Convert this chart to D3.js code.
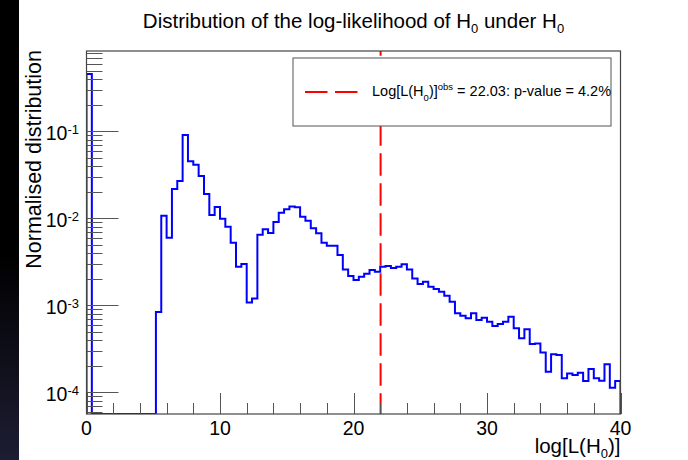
<!DOCTYPE html>
<html>
<head>
<meta charset="utf-8">
<script src="https://cdn.jsdelivr.net/npm/d3@7"></script>
<style>
  html, body { margin: 0; padding: 0; background: #000; }
  svg { display: block; }
  text { font-family: "Liberation Sans", Arial, Helvetica, sans-serif; fill: #000; }
</style>
</head>
<body>
<svg id="chart" width="688" height="460"></svg>
<script>
// Histogram of log L(H0) under H0: 100 bins of width 0.4 over [0, 40]
const binWidth = 0.4;
const xRange = [0, 40];
const binValues = [
  0.456, 0, 0, 0, 0, 0, 0, 0, 0, 0,
  0, 0, 0, 0.00084, 0.0107, 0.00598, 0.0217, 0.0269, 0.0906, 0.0452,
  0.0413, 0.0306, 0.0190, 0.0109, 0.0135, 0.00989, 0.0080, 0.00525, 0.00278, 0.00299,
  0.00108, 0.00120, 0.00648, 0.00748, 0.00678, 0.00906, 0.0116, 0.0127, 0.0137, 0.0134,
  0.0104, 0.00938, 0.00767, 0.00672, 0.00525, 0.00485, 0.00485, 0.00379, 0.00259, 0.00217,
  0.00195, 0.00213, 0.00231, 0.00255, 0.00243, 0.00278, 0.00283, 0.00268, 0.00278, 0.00296,
  0.00259, 0.00204, 0.00176, 0.00187, 0.00164, 0.00154, 0.00143, 0.00129, 0.00110, 0.000809,
  0.000759, 0.000709, 0.000809, 0.000678, 0.000720, 0.000647, 0.000578, 0.000610, 0.000647, 0.000740,
  0.000544, 0.000418, 0.000530, 0.000359, 0.000365, 0.000288, 0.000173, 0.000275, 0.000268, 0.000145,
  0.000165, 0.000158, 0.000168, 0.000135, 0.000185, 0.000145, 0.000136, 0.000210, 0.000113, 0.000135
];
const yRange = [5.64e-5, 0.838];

// Observed value and its p-value
const obsValue = 22.03;
const obsLabel = "22.03";
const pValueLabel = "4.2%";

// Axis ticks
const xMajorTicks = [0, 10, 20, 30, 40];
const xMinorStep = 2;
const yDecades = [1e-4, 1e-3, 1e-2, 1e-1];
const yExponents = ["-4", "-3", "-2", "-1"];

const svg = d3.select("#chart");
const W = 688, H = 460;
const frame = { left: 86.5, right: 620.5, top: 51, bottom: 414 };

// Page background: dark strip on the left, white canvas
const defs = svg.append("defs");
const grad = defs.append("linearGradient").attr("id", "edgeGrad")
  .attr("x1", 0).attr("y1", 0).attr("x2", 0).attr("y2", 1);
grad.append("stop").attr("offset", "0%").attr("stop-color", "#000");
grad.append("stop").attr("offset", "55%").attr("stop-color", "#000");
grad.append("stop").attr("offset", "100%").attr("stop-color", "#1d1d33");
svg.append("rect").attr("x", 0).attr("y", 0).attr("width", 19).attr("height", H).attr("fill", "url(#edgeGrad)");
svg.append("rect").attr("x", 19).attr("y", 0).attr("width", W - 19).attr("height", H).attr("fill", "#fff");

const x = d3.scaleLinear().domain(xRange).range([frame.left, frame.right]);
const y = d3.scaleLog().domain(yRange).range([frame.bottom, frame.top]);

defs.append("clipPath").attr("id", "plotClip")
  .append("rect")
  .attr("x", frame.left).attr("y", frame.top - 1)
  .attr("width", frame.right - frame.left).attr("height", frame.bottom - frame.top + 1);

// Step outline of the histogram; empty bins sit on the lower edge
const yMin = yRange[0];
const pts = [[xRange[0], yMin]];
binValues.forEach((v, i) => {
  const vv = Math.max(v, yMin);
  pts.push([xRange[0] + i * binWidth, vv]);
  pts.push([xRange[0] + (i + 1) * binWidth, vv]);
});
pts.push([xRange[1], yMin]);

const line = d3.line().x(d => x(d[0])).y(d => y(d[1]));

const plot = svg.append("g").attr("clip-path", "url(#plotClip)");
plot.append("path")
  .attr("d", line(pts))
  .attr("fill", "none")
  .attr("stroke", "#0000ff")
  .attr("stroke-width", 2)
  .attr("stroke-linejoin", "miter");

// Observed value marker
const xObs = x(obsValue);
plot.append("line")
  .attr("x1", xObs).attr("x2", xObs)
  .attr("y1", frame.top).attr("y2", frame.bottom)
  .attr("stroke", "#ff0000").attr("stroke-width", 2)
  .attr("stroke-dasharray", "22.5 7.5")
  .attr("stroke-dashoffset", 17.7);

// Ticks (drawn inside the frame)
const tickColor = "#555";
const axes = svg.append("g").attr("stroke", tickColor).attr("stroke-width", 1);

// x ticks
d3.range(xRange[0], xRange[1] + 0.001, xMinorStep).forEach(v => {
  const major = xMajorTicks.includes(v);
  const px = Math.round(x(v)) + 0.5;
  axes.append("line")
    .attr("x1", px).attr("x2", px)
    .attr("y1", frame.bottom).attr("y2", frame.bottom - (major ? 21 : 11));
});

// y ticks: decades and 2..9 sub-ticks
const yMinorTicks = [];
[1e-5, 1e-4, 1e-3, 1e-2, 1e-1].forEach(d => {
  for (let k = 1; k <= 9; k++) {
    const v = d * k;
    if (v >= yRange[0] && v <= yRange[1]) yMinorTicks.push({ v, major: k === 1 });
  }
});
yMinorTicks.forEach(t => {
  const py = Math.round(y(t.v)) + 0.5;
  axes.append("line")
    .attr("x1", frame.left).attr("x2", frame.left + (t.major ? 32 : 16))
    .attr("y1", py).attr("y2", py);
});

// Frame
svg.append("rect")
  .attr("x", frame.left).attr("y", frame.top)
  .attr("width", frame.right - frame.left).attr("height", frame.bottom - frame.top)
  .attr("fill", "none").attr("stroke", "#444").attr("stroke-width", 1.2);

// x tick labels
const labelSize = 19.5;
svg.append("g").selectAll("text")
  .data(xMajorTicks).join("text")
  .attr("x", d => x(d))
  .attr("y", frame.bottom + 21)
  .attr("text-anchor", "middle")
  .style("font-size", labelSize + "px")
  .text(d => d);

// y tick labels: 10^n
yDecades.forEach((d, i) => {
  const t = svg.append("text")
    .attr("x", 79)
    .attr("y", y(d) + 8.7)
    .attr("text-anchor", "end")
    .style("font-size", labelSize + "px");
  t.append("tspan").text("10");
  t.append("tspan").attr("dy", -6).style("font-size", "13px").text(yExponents[i]);
});

// Title
const titleSize = 20.5;
const title = svg.append("text")
  .attr("x", (frame.left + frame.right) / 2)
  .attr("y", 28)
  .attr("text-anchor", "middle")
  .style("font-size", titleSize + "px");
title.append("tspan").text("Distribution of the log-likelihood of H");
title.append("tspan").attr("dy", 5).style("font-size", "13px").text("0");
title.append("tspan").attr("dy", -5).text(" under H");
title.append("tspan").attr("dy", 5).style("font-size", "13px").text("0");

// x axis title
const xt = svg.append("text")
  .attr("x", frame.right)
  .attr("y", 453)
  .attr("text-anchor", "end")
  .style("font-size", titleSize + "px");
xt.append("tspan").text("log[L(H");
xt.append("tspan").attr("dy", 5).style("font-size", "13px").text("0");
xt.append("tspan").attr("dy", -5).text(")]");

// y axis title
svg.append("text")
  .attr("transform", `translate(41,${frame.top - 1}) rotate(-90)`)
  .attr("text-anchor", "end")
  .style("font-size", "21.5px")
  .text("Normalised distribution");

// Legend
const leg = { x: 293, y: 58, w: 318, h: 68 };
svg.append("rect")
  .attr("x", leg.x).attr("y", leg.y).attr("width", leg.w).attr("height", leg.h)
  .attr("fill", "#fff").attr("stroke", "#555").attr("stroke-width", 1);
svg.append("line")
  .attr("x1", 305).attr("x2", 358)
  .attr("y1", 92).attr("y2", 92)
  .attr("stroke", "#ff0000").attr("stroke-width", 2)
  .attr("stroke-dasharray", "22.5 7.5");
const legendSize = 14.5;
const lt = svg.append("text")
  .attr("x", 372).attr("y", 96)
  .style("font-size", legendSize + "px");
lt.append("tspan").text("Log[L(H");
lt.append("tspan").attr("dy", 5).style("font-size", "9.5px").text("0");
lt.append("tspan").attr("dy", -5).text(")]");
lt.append("tspan").attr("dy", -6).style("font-size", "9.5px").text("obs");
lt.append("tspan").attr("dy", 6).text(` = ${obsLabel}: p-value = ${pValueLabel}`);
</script>
</body>
</html>
